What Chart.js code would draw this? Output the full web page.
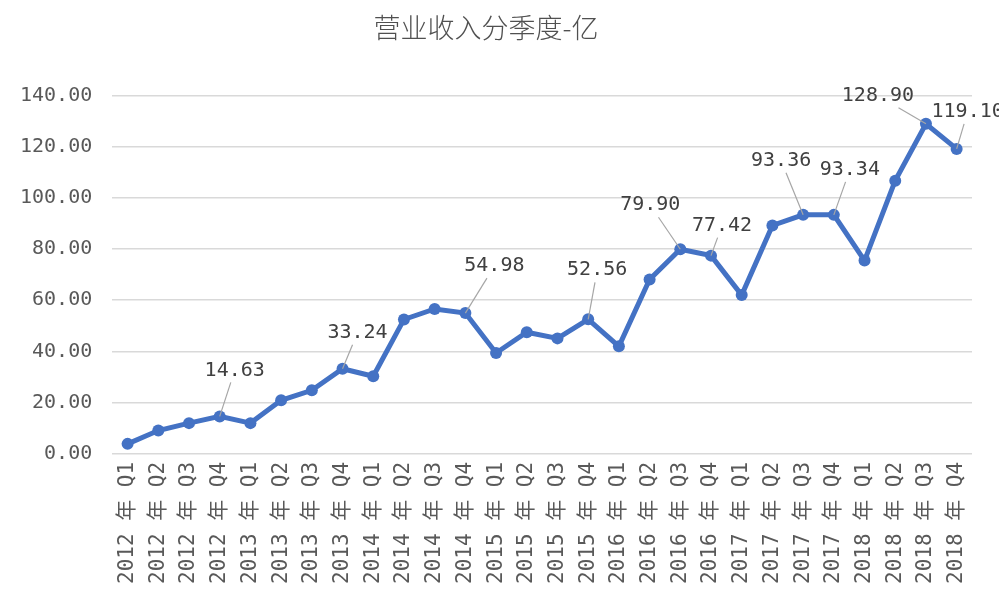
<!DOCTYPE html>
<html>
<head>
<meta charset="utf-8">
<script src="https://cdn.jsdelivr.net/npm/chart.js@4"></script>
<style>
  html, body { margin: 0; padding: 0; background: #fff; }
  #wrap { width: 999px; height: 599px; }
</style>
</head>
<body>
<div id="wrap"><canvas id="revenue-chart"></canvas></div>
<script>
const quarters = [
    '2012 年 Q1', '2012 年 Q2', '2012 年 Q3', '2012 年 Q4',
    '2013 年 Q1', '2013 年 Q2', '2013 年 Q3', '2013 年 Q4',
    '2014 年 Q1', '2014 年 Q2', '2014 年 Q3', '2014 年 Q4',
    '2015 年 Q1', '2015 年 Q2', '2015 年 Q3', '2015 年 Q4',
    '2016 年 Q1', '2016 年 Q2', '2016 年 Q3', '2016 年 Q4',
    '2017 年 Q1', '2017 年 Q2', '2017 年 Q3', '2017 年 Q4',
    '2018 年 Q1', '2018 年 Q2', '2018 年 Q3', '2018 年 Q4'
];
const revenue = [
    3.9, 9.1, 12.0, 14.63,
    12.0, 20.9, 24.8, 33.24,
    30.3, 52.5, 56.6, 54.98,
    39.4, 47.5, 45.1, 52.56,
    42.0, 68.1, 79.90, 77.42,
    62.0, 89.2, 93.36, 93.34,
    75.5, 106.7, 128.90, 119.1
];
const yTicks = [0, 20, 40, 60, 80, 100, 120, 140];
// which points carry a value label, and where the label sits relative to the point
const labelled = [3, 7, 11, 15, 18, 19, 22, 23, 26, 27];
const labelShift = {
    3: [15, -46], 7: [15, -36], 11: [29, -47], 15: [9, -49], 18: [-30, -44],
    19: [11, -30], 22: [-22, -54], 23: [16, -45], 26: [-48, -28], 27: [11, -37]
};

const monoFont = '"DejaVu Sans Mono", "Noto Sans CJK SC", monospace';

const valueLabels = {
    id: 'valueLabels',
    afterDatasetsDraw(chart) {
        const ctx = chart.ctx;
        const pts = chart.getDatasetMeta(0).data;
        ctx.save();
        ctx.font = '20px ' + monoFont;
        ctx.textAlign = 'center';
        ctx.textBaseline = 'middle';
        labelled.forEach(i => {
            const p = pts[i];
            const [dx, dy] = labelShift[i];
            const lx = p.x + dx, ly = p.y + dy;
            // leader line from point to bottom of label
            ctx.strokeStyle = '#a6a6a6';
            ctx.lineWidth = 1.2;
            ctx.beginPath();
            ctx.moveTo(p.x, p.y);
            const t = (Math.abs(dy) - 12) / Math.abs(dy);
            ctx.lineTo(p.x + dx * t, p.y + dy * t);
            ctx.stroke();
            ctx.fillStyle = '#404040';
            ctx.fillText(revenue[i].toFixed(2), lx, ly);
        });
        ctx.restore();
    }
};

const ctx = document.getElementById('revenue-chart').getContext('2d');
const myChart = new Chart(ctx, {
    type: 'line',
    data: {
        labels: quarters,
        datasets: [{
            label: '营业收入',
            data: revenue,
            borderColor: '#4472C4',
            backgroundColor: '#4472C4',
            borderWidth: 5,
            pointRadius: 6,
            pointBorderWidth: 0,
            pointBackgroundColor: '#4472C4',
            tension: 0
        }]
    },
    plugins: [valueLabels],
    options: {
        responsive: true,
        maintainAspectRatio: false,
        animation: false,
        layout: {padding: {left: 0, right: 27, top: 0, bottom: 15}},
        plugins: {
            legend: {display: false},
            tooltip: {enabled: false},
            title: {
                display: true,
                text: '营业收入分季度-亿',
                color: '#505050',
                font: {family: '"Noto Sans CJK SC", sans-serif', size: 27, weight: 300},
                padding: {top: 12, bottom: 51}
            }
        },
        scales: {
            x: {
                offset: true,
                grid: {display: false},
                border: {display: false},
                ticks: {
                    autoSkip: false,
                    minRotation: 90,
                    maxRotation: 90,
                    padding: 0,
                    color: '#595959',
                    font: {family: monoFont, size: 21}
                }
            },
            y: {
                min: 0,
                max: 140,
                afterBuildTicks: axis => { axis.ticks = yTicks.map(v => ({value: v})); },
                grid: {color: '#d9d9d9', lineWidth: 1.5, drawTicks: false},
                border: {display: false},
                ticks: {
                    padding: 20,
                    color: '#595959',
                    font: {family: monoFont, size: 20},
                    callback: v => v.toFixed(2)
                }
            }
        }
    }
});
</script>
</body>
</html>
